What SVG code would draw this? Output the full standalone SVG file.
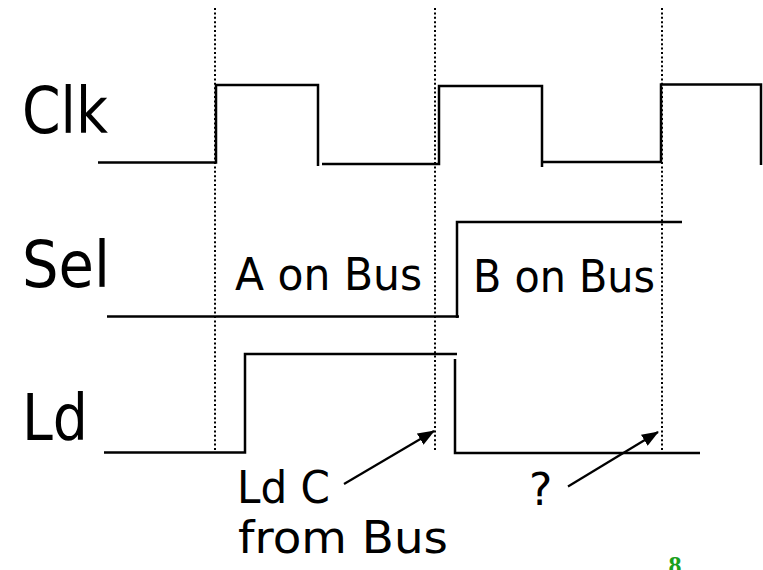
<svg xmlns="http://www.w3.org/2000/svg" width="763" height="570" viewBox="0 0 763 570">
  <style>
    .wave { fill: none; stroke: #000; stroke-width: 2.5; stroke-linejoin: miter; }
    .guide { fill: none; stroke: #000; stroke-width: 2; stroke-dasharray: 2 2.4; }
    .arrow { fill: none; stroke: #000; stroke-width: 2.2; }
    .big { font-family: "DejaVu Sans", "Open Sans", sans-serif; font-size: 64px; fill: #000; }
    .lbl { font-family: "DejaVu Sans", "Open Sans", sans-serif; font-size: 44px; fill: #000; }
    .pgno { font-family: "Liberation Serif", serif; font-size: 26px; font-weight: bold; fill: #1aa01a; }
  </style>
  <defs>
    <marker id="head" viewBox="0 0 17 13" refX="16" refY="6.5" markerWidth="17" markerHeight="13" markerUnits="userSpaceOnUse" orient="auto">
      <path d="M0,0 L17,6.5 L0,13 Z" fill="#000"/>
    </marker>
  </defs>

  <!-- dotted clock-edge guides -->
  <g id="guides">
    <line class="guide" x1="215" y1="8" x2="215" y2="450"/>
    <line class="guide" x1="435" y1="8" x2="435" y2="450"/>
    <line class="guide" x1="662" y1="8" x2="662" y2="450"/>
  </g>

  <!-- clock signal -->
  <g id="clk">
    <text class="big" x="22" y="133" textLength="86" lengthAdjust="spacingAndGlyphs">Clk</text>
    <path class="wave" d="M98,162.5 H216 V85 H318 V166"/>
    <path class="wave" d="M322,164 H439 V86 H542 V167"/>
    <path class="wave" d="M542,162 H661 V84.5 H761 V165"/>
  </g>

  <!-- bus select signal -->
  <g id="sel">
    <text class="big" x="22" y="287" textLength="88" lengthAdjust="spacingAndGlyphs">Sel</text>
    <path class="wave" d="M107,316.5 H459"/>
    <path class="wave" d="M457,318 V222 H682"/>
    <text class="lbl" x="235" y="290" textLength="187" lengthAdjust="spacingAndGlyphs">A on Bus</text>
    <text class="lbl" x="473" y="291.5" textLength="182" lengthAdjust="spacingAndGlyphs">B on Bus</text>
  </g>

  <!-- load signal -->
  <g id="ld">
    <text class="big" x="22" y="440" textLength="66" lengthAdjust="spacingAndGlyphs">Ld</text>
    <path class="wave" d="M104,452.5 H245 V354 H457"/>
    <path class="wave" d="M455,359 V453 H700"/>
  </g>

  <!-- annotations -->
  <g id="note-ldc">
    <text class="lbl" x="237" y="503" textLength="93" lengthAdjust="spacingAndGlyphs">Ld C</text>
    <text class="lbl" x="238" y="553" textLength="210" lengthAdjust="spacingAndGlyphs">from Bus</text>
  </g>
  <g id="note-q">
    <text class="lbl" x="529" y="505">?</text>
  </g>

  <g id="connectors">
    <line class="arrow" x1="344" y1="484" x2="434" y2="431" marker-end="url(#head)"/>
    <line class="arrow" x1="568" y1="486.5" x2="658" y2="432" marker-end="url(#head)"/>
  </g>

  <text class="pgno" x="675" y="574" text-anchor="middle">8</text>
</svg>
